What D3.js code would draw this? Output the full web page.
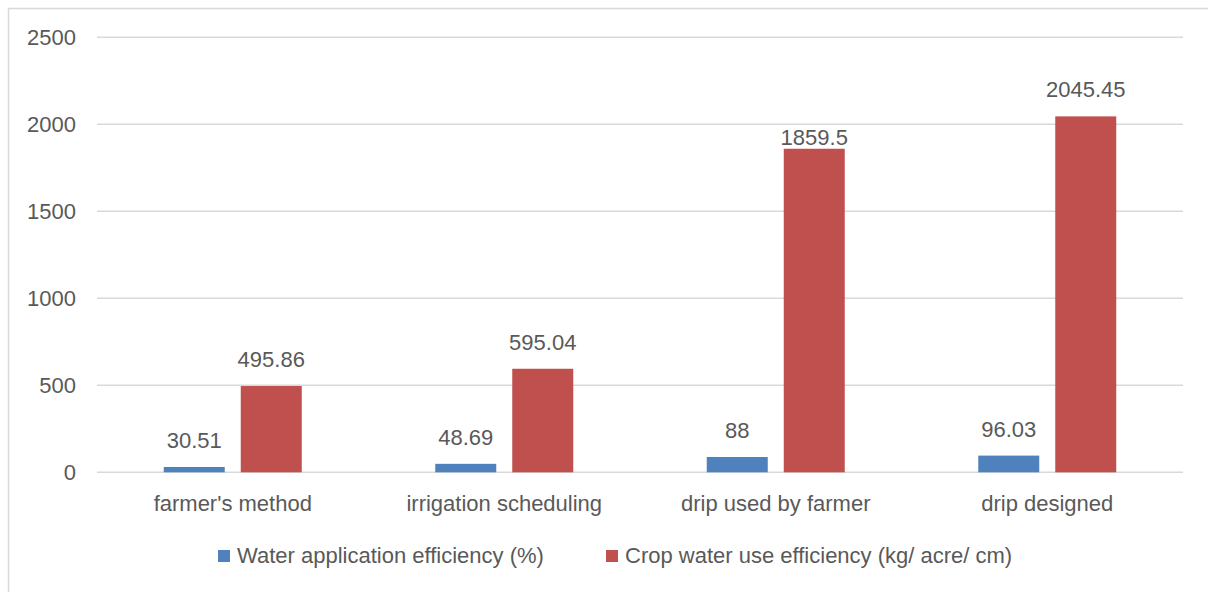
<!DOCTYPE html>
<html>
<head>
<meta charset="utf-8">
<script src="https://cdn.jsdelivr.net/npm/d3@7"></script>
<style>
  html, body { margin: 0; padding: 0; background: #ffffff; }
  svg { display: block; }
  text { font-family: "Liberation Sans", Arial, sans-serif; fill: #595959; }
</style>
</head>
<body>
<svg id="chart" width="1208" height="592"></svg>
<script>
// Irrigation methods compared on the x axis
const categories = ["farmer's method", "irrigation scheduling", "drip used by farmer", "drip designed"];
const seriesNames = ["Water application efficiency (%)", "Crop water use efficiency (kg/ acre/ cm)"];
const seriesColors = ["#4f81bd", "#c0504d"];
const waterApplication = [30.51, 48.69, 88, 96.03];
const cropWaterUse = [495.86, 595.04, 1859.5, 2045.45];
const yTicks = [0, 500, 1000, 1500, 2000, 2500];

const seriesValues = [waterApplication, cropWaterUse];

const svg = d3.select("#chart");
const W = 1208, H = 592;
const plot = { left: 97, right: 1183, top: 37.3, bottom: 472.3 };
const fontSize = 22;

// Outer chart frame
svg.append("rect")
  .attr("x", 8.5).attr("y", 8.5)
  .attr("width", W + 20).attr("height", H + 20)
  .attr("fill", "#ffffff")
  .attr("stroke", "#d9d9d9")
  .attr("stroke-width", 1.5);

const y = d3.scaleLinear().domain([0, 2500]).range([plot.bottom, plot.top]);

const x0 = d3.scaleBand()
  .domain(categories)
  .range([plot.left, plot.right])
  .paddingInner(0.4917)
  .paddingOuter(0.4917 / 2);

const x1 = d3.scaleBand()
  .domain(d3.range(seriesNames.length))
  .range([0, x0.bandwidth()])
  .paddingInner(0.2078);

// Horizontal gridlines
svg.append("g")
  .selectAll("line")
  .data(yTicks)
  .join("line")
  .attr("x1", plot.left).attr("x2", plot.right)
  .attr("y1", d => y(d)).attr("y2", d => y(d))
  .attr("stroke", "#d9d9d9")
  .attr("stroke-width", 1.5);

// Y axis labels
const yAxis = svg.append("g")
  .attr("transform", `translate(${plot.left},0)`)
  .call(d3.axisLeft(y).tickValues(yTicks).tickSize(0).tickPadding(21).tickFormat(d3.format("d")));
yAxis.select(".domain").remove();
yAxis.selectAll("text")
  .attr("font-size", fontSize)
  .attr("font-family", "Liberation Sans, Arial, sans-serif")
  .attr("fill", "#595959");

// Bars and value labels
const groups = svg.append("g")
  .selectAll("g")
  .data(categories)
  .join("g")
  .attr("transform", d => `translate(${x0(d)},0)`);

const cells = groups.selectAll("g")
  .data((c, ci) => seriesValues.map((vals, si) => ({ ci, si, v: vals[ci] })))
  .join("g");

cells.append("rect")
  .attr("x", d => x1(d.si))
  .attr("width", x1.bandwidth())
  .attr("y", d => y(d.v))
  .attr("height", d => y(0) - y(d.v))
  .attr("fill", d => seriesColors[d.si]);

// The "drip used by farmer" crop-water label sits lower, close to its bar
const labelGap = d => (d.ci === 2 && d.si === 1) ? 4 : 19;

cells.append("text")
  .attr("x", d => x1(d.si) + x1.bandwidth() / 2)
  .attr("y", d => y(d.v) - labelGap(d))
  .attr("text-anchor", "middle")
  .attr("font-size", fontSize)
  .text(d => String(d.v));

// Category labels
const xAxis = svg.append("g")
  .attr("transform", `translate(0,${plot.bottom})`)
  .call(d3.axisBottom(x0).tickSize(0).tickPadding(0));
xAxis.select(".domain").remove();
xAxis.selectAll("text")
  .attr("font-size", fontSize)
  .attr("font-family", "Liberation Sans, Arial, sans-serif")
  .attr("fill", "#595959")
  .attr("dy", null)
  .attr("y", 38.5);

// Legend
const legendX = [218, 606];
const legend = svg.append("g")
  .selectAll("g")
  .data(seriesNames)
  .join("g")
  .attr("transform", (d, i) => `translate(${legendX[i]},550)`);
legend.append("rect")
  .attr("width", 12).attr("height", 12)
  .attr("fill", (d, i) => seriesColors[i]);
legend.append("text")
  .attr("x", 19).attr("y", 13)
  .attr("font-size", fontSize)
  .text(d => d);
</script>
</body>
</html>
